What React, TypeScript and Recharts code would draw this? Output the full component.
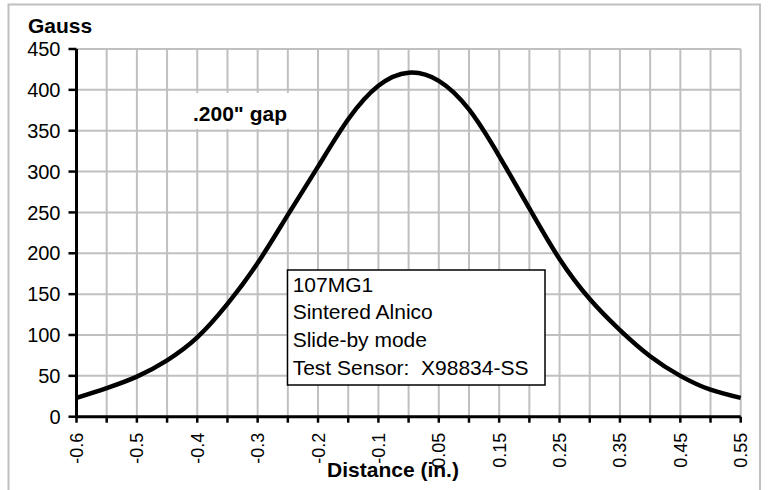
import React from "react";
import { LineChart, Line, XAxis, YAxis, CartesianGrid } from "recharts";

const categories: string[] = [
  "-0.6", "-0.55", "-0.5", "-0.45", "-0.4", "-0.35", "-0.3", "-0.25", "-0.2", "-0.15", "-0.1", "0",
  "0.05", "0.1", "0.15", "0.2", "0.25", "0.3", "0.35", "0.4", "0.45", "0.5", "0.55",
];
const gaussValues: number[] = [
  23, 35, 49, 69, 97, 138, 188, 247, 306, 364, 405, 421,
  411, 376, 319, 255, 193, 144, 106, 74, 50, 33, 23,
];
const yTicks: number[] = [0, 50, 100, 150, 200, 250, 300, 350, 400, 450];
const infoLines: string[] = ["107MG1", "Sintered Alnico", "Slide-by mode", "Test Sensor:  X98834-SS"];

const data = categories.map((c, i) => ({ x: c, gauss: gaussValues[i] }));

const FONT = "'Liberation Sans', Arial, Helvetica, sans-serif";

const XTick = (props: any) => {
  const { x, y, payload, index } = props;
  if (index % 2 !== 0) return null;
  return (
    <text
      transform={`translate(${x + 6.5},${y + 8}) rotate(-90)`}
      textAnchor="end"
      fontSize={18}
      fontFamily={FONT}
      fill="#000"
    >
      {payload.value}
    </text>
  );
};

export default function App() {
  return (
    <div style={{ position: "absolute", left: 0, top: 0, width: 768, height: 490, background: "#fff" }}>
      <LineChart
        width={768}
        height={490}
        data={data}
        margin={{ top: 49, right: 27.3, bottom: 13.3, left: 0 }}
      >
        <CartesianGrid stroke="#c0c0c0" strokeWidth={2} />
        <XAxis
          dataKey="x"
          scale="point"
          interval={0}
          height={60}
          padding={{ left: 0, right: 0 }}
          tick={<XTick />}
          tickSize={6}
          axisLine={{ stroke: "#000", strokeWidth: 3 }}
          tickLine={{ stroke: "#000", strokeWidth: 2.5 }}
        />
        <YAxis
          domain={[0, 450]}
          ticks={yTicks}
          interval={0}
          width={76.5}
          tickSize={8}
          tickMargin={8}
          tick={{ fontSize: 20, fill: "#000", fontFamily: FONT }}
          axisLine={{ stroke: "#000", strokeWidth: 3 }}
          tickLine={{ stroke: "#000", strokeWidth: 2.5 }}
        />
        <Line
          type="natural"
          dataKey="gauss"
          stroke="#000"
          strokeWidth={4.5}
          dot={false}
          isAnimationActive={false}
        />
      </LineChart>
      <svg
        width={768}
        height={490}
        style={{ position: "absolute", left: 0, top: 0, pointerEvents: "none" }}
      >
        <rect x={8.5} y={4.5} width={751.5} height={500} fill="none" stroke="#c0c0c0" strokeWidth={2} />
        <text x={28} y={33} fontSize={21} fontWeight="bold" fontFamily={FONT} fill="#000">
          Gauss
        </text>
        <rect x={188} y={93} width={102} height={36} fill="#fff" />
        <text x={193} y={121} fontSize={21} fontWeight="bold" fontFamily={FONT} fill="#000">
          .200" gap
        </text>
        <rect x={287.5} y={270} width={257.5} height={115} fill="#fff" stroke="#000" strokeWidth={1.5} />
        {infoLines.map((t, i) => (
          <text
            key={i}
            x={292.7}
            y={291.5 + i * 27.8}
            fontSize={21}
            fontFamily={FONT}
            fill="#000"
            style={{ whiteSpace: "pre" }}
          >
            {t}
          </text>
        ))}
        <text x={393} y={477} textAnchor="middle" fontSize={21} fontWeight="bold" fontFamily={FONT} fill="#000">
          Distance (in.)
        </text>
      </svg>
    </div>
  );
}
